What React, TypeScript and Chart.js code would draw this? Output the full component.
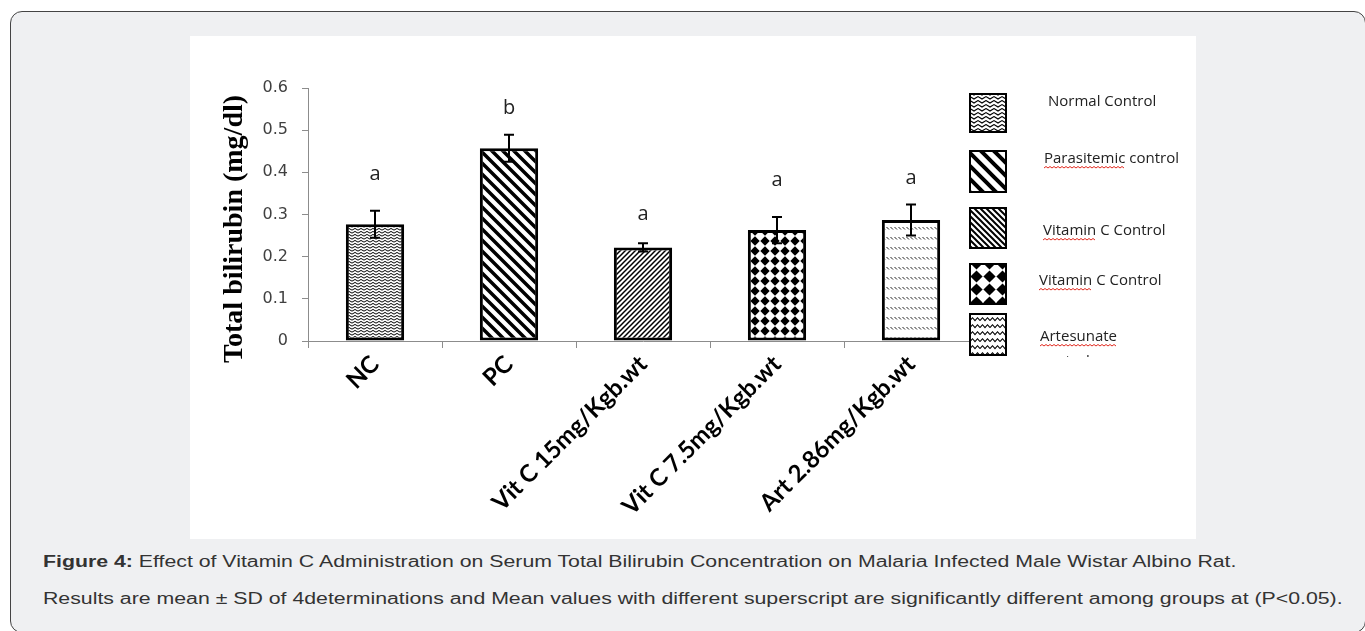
import React, { useEffect, useRef } from "react";
import { Chart, registerables } from "chart.js";

Chart.register(...registerables);

// ---------- data ----------
const categories = ["NC", "PC", "Vit C 15mg/Kgb.wt", "Vit C 7.5mg/Kgb.wt", "Art 2.86mg/Kgb.wt"];
const meanBilirubin = [0.277, 0.457, 0.222, 0.263, 0.287];
const sdBilirubin = [0.032, 0.032, 0.01, 0.031, 0.037];
const superscripts = ["a", "b", "a", "a", "a"];
const superscriptLevels = [0.396, 0.552, 0.301, 0.382, 0.387];
const yTickValues = [0, 0.1, 0.2, 0.3, 0.4, 0.5, 0.6];
const yTickLabels = ["0", "0.1", "0.2", "0.3", "0.4", "0.5", "0.6"];
const legendLabels = ["Normal Control", "Parasitemic control", "Vitamin C Control", "Vitamin C Control", "Artesunate"];
const legendMisspelt = ["", "Parasitemic", "Vitamin", "Vitamin", "Artesunate"];
const legendOverflow = "control";
const yAxisTitle = "Total bilirubin (mg/dl)";
const captionTitle = "Figure 4:";
const captionLine1 =
  " Effect of Vitamin C Administration on Serum Total Bilirubin Concentration on Malaria Infected Male Wistar Albino Rat.";
const captionLine2 =
  "Results are mean \u00b1 SD of 4determinations and Mean values with different superscript are significantly different among groups at (P<0.05).";

// ---------- layout constants (canvas coords) ----------
const CW = 1006;
const CH = 503;
const LEGEND_BOXES = [
  [779, 57, 38, 40],
  [779, 114, 38, 43],
  [779, 171, 38, 42],
  [779, 227, 38, 42],
  [779, 277, 38, 43],
];
const LEGEND_TEXT = [
  [858, 66],
  [854, 123],
  [853, 195],
  [849, 245],
  [850, 301],
];

// ---------- patterns ----------
type Draw = (c: CanvasRenderingContext2D, w: number, h: number) => void;

function makeTile(w: number, h: number, draw: Draw): HTMLCanvasElement {
  const cv = document.createElement("canvas");
  cv.width = w;
  cv.height = h;
  const c = cv.getContext("2d")!;
  c.fillStyle = "#fff";
  c.fillRect(0, 0, w, h);
  c.strokeStyle = "#000";
  c.fillStyle = "#000";
  draw(c, w, h);
  return cv;
}

const diag = (lw: number, dir: number): Draw => (c, w) => {
  c.lineWidth = lw;
  c.beginPath();
  for (let k = -1; k <= 1; k++) {
    if (dir > 0) {
      c.moveTo(k * w - 2, -2);
      c.lineTo(k * w + w + 2, w + 2);
    } else {
      c.moveTo(k * w - 2, w + 2);
      c.lineTo(k * w + w + 2, -2);
    }
  }
  c.stroke();
};

// herringbone-like chevrons
const weave = (lw: number): Draw => (c, w, h) => {
  c.lineWidth = lw;
  c.beginPath();
  const hh = h / 2;
  for (const y0 of [0, hh]) {
    c.moveTo(-1, y0 + hh * 0.9);
    c.lineTo(w / 2, y0 + hh * 0.15);
    c.lineTo(w + 1, y0 + hh * 0.9);
  }
  c.stroke();
};

const diamonds: Draw = (c, w, h) => {
  const r = w * 0.47;
  c.beginPath();
  c.moveTo(w / 2, h / 2 - r);
  c.lineTo(w / 2 + r, h / 2);
  c.lineTo(w / 2, h / 2 + r);
  c.lineTo(w / 2 - r, h / 2);
  c.closePath();
  c.fill();
};

const dashes: Draw = (c) => {
  c.lineWidth = 1;
  c.strokeStyle = "#222";
  c.beginPath();
  c.moveTo(0.5, 1);
  c.lineTo(3, 3.5);
  c.stroke();
};

const wave: Draw = (c, w, h) => {
  c.lineWidth = 1.1;
  c.beginPath();
  c.moveTo(0, h * 0.65);
  c.lineTo(w / 4, h * 0.25);
  c.lineTo(w / 2, h * 0.65);
  c.lineTo((3 * w) / 4, h * 0.25);
  c.lineTo(w, h * 0.65);
  c.stroke();
};

function drawWavy(ctx: CanvasRenderingContext2D, x0: number, x1: number, y: number) {
  ctx.save();
  ctx.strokeStyle = "#e0281e";
  ctx.lineWidth = 1;
  ctx.beginPath();
  let up = true;
  ctx.moveTo(x0, y);
  for (let x = x0 + 2; x <= x1; x += 2) {
    ctx.lineTo(x, up ? y - 1.5 : y);
    up = !up;
  }
  ctx.stroke();
  ctx.restore();
}

export default function App() {
  const ref = useRef<HTMLCanvasElement | null>(null);

  useEffect(() => {
    const canvas = ref.current;
    if (!canvas) return;
    const ctx0 = canvas.getContext("2d")!;
    const pat = (w: number, h: number, d: Draw) => ctx0.createPattern(makeTile(w, h, d), "repeat")!;

    const barFills = [
      pat(6, 6, weave(1)),
      pat(11, 11, diag(3.5, 1)),
      pat(5, 5, diag(1.5, -1)),
      pat(10, 10, diamonds),
      pat(4, 10, dashes),
    ];
    const legendFills = [
      pat(8, 8, weave(1.2)),
      pat(13, 13, diag(4, 1)),
      pat(6, 6, diag(2, 1)),
      pat(13, 13, diamonds),
      pat(10, 7, wave),
    ];

    const overlay = {
      id: "overlay",
      afterDatasetsDraw(chart: any) {
        const { ctx } = chart;
        const y = chart.scales.y;
        const meta = chart.getDatasetMeta(0);

        // error bars
        ctx.save();
        ctx.strokeStyle = "#000";
        ctx.lineWidth = 2;
        meanBilirubin.forEach((m, i) => {
          const cx = meta.data[i].x;
          const yt = y.getPixelForValue(m + sdBilirubin[i]);
          const yb = y.getPixelForValue(m - sdBilirubin[i]);
          ctx.beginPath();
          ctx.moveTo(cx, yt);
          ctx.lineTo(cx, yb);
          ctx.moveTo(cx - 5, yt);
          ctx.lineTo(cx + 5, yt);
          ctx.moveTo(cx - 5, yb);
          ctx.lineTo(cx + 5, yb);
          ctx.stroke();
        });

        // superscript letters
        ctx.fillStyle = "#222";
        ctx.font = '20px "Open Sans"';
        ctx.textAlign = "center";
        ctx.textBaseline = "middle";
        superscripts.forEach((s, i) => {
          ctx.fillText(s, meta.data[i].x, y.getPixelForValue(superscriptLevels[i]));
        });

        // y axis title
        ctx.save();
        ctx.translate(45, 193);
        ctx.rotate(-Math.PI / 2);
        ctx.fillStyle = "#000";
        ctx.font = 'bold 28px "Liberation Serif"';
        ctx.textAlign = "center";
        ctx.textBaseline = "middle";
        ctx.fillText(yAxisTitle, 0, 0);
        ctx.restore();

        // legend
        LEGEND_BOXES.forEach(([bx, by, bw, bh], i) => {
          ctx.fillStyle = legendFills[i];
          ctx.fillRect(bx, by, bw, bh);
          ctx.strokeStyle = "#000";
          ctx.lineWidth = 2;
          ctx.strokeRect(bx + 1, by + 1, bw - 2, bh - 2);
        });
        ctx.font = '15px "Open Sans"';
        ctx.textAlign = "left";
        ctx.textBaseline = "middle";
        legendLabels.forEach((t, i) => {
          const [tx, ty] = LEGEND_TEXT[i];
          ctx.fillStyle = "#222";
          ctx.fillText(t, tx, ty);
          if (legendMisspelt[i]) {
            const w = ctx.measureText(legendMisspelt[i]).width;
            drawWavy(ctx, tx, tx + w, ty + 9);
          }
        });
        // cut-off second line of the last legend entry
        ctx.save();
        ctx.beginPath();
        ctx.rect(840, 312, 160, 9);
        ctx.clip();
        ctx.fillStyle = "#222";
        ctx.fillText(legendOverflow, LEGEND_TEXT[4][0], LEGEND_TEXT[4][1] + 25);
        ctx.restore();

        ctx.restore();
      },
    };

    const chart = new Chart(canvas, {
      type: "bar",
      data: {
        labels: categories,
        datasets: [
          {
            data: meanBilirubin,
            backgroundColor: barFills as any,
            borderColor: "#000",
            borderWidth: 3,
            borderSkipped: false,
            barPercentage: 0.435,
            categoryPercentage: 1,
          },
        ],
      },
      options: {
        responsive: false,
        animation: false,
        events: [],
        layout: { padding: { left: 0, top: 52, right: 218, bottom: 0 } },
        plugins: {
          legend: { display: false },
          tooltip: { enabled: false },
        },
        scales: {
          x: {
            grid: {
              display: true,
              drawOnChartArea: false,
              offset: true,
              tickLength: 7,
              color: "#8c8c8c",
            },
            border: { color: "#8c8c8c" },
            ticks: {
              minRotation: 45,
              maxRotation: 45,
              autoSkip: false,
              color: "#000",
              font: { family: "Lato", weight: "bold", size: 24 },
              padding: 2,
            },
            afterFit: (s: any) => {
              s.height = 198;
            },
          },
          y: {
            min: 0,
            max: 0.6,
            afterBuildTicks: (s: any) => {
              s.ticks = yTickValues.map((v) => ({ value: v }));
            },
            ticks: {
              callback: (_v: any, i: number) => yTickLabels[i],
              color: "#404040",
              font: { family: "DejaVu Sans", size: 16 },
              padding: 14,
            },
            grid: { drawOnChartArea: false, tickLength: 6, color: "#8c8c8c" },
            border: { color: "#8c8c8c" },
            afterFit: (s: any) => {
              s.width = 118;
            },
          },
        },
      },
      plugins: [overlay],
    });

    return () => chart.destroy();
  }, []);

  const captionStyle: React.CSSProperties = {
    position: "absolute",
    left: 43,
    fontFamily: '"Liberation Sans", Arial, sans-serif',
    fontSize: 16,
    lineHeight: "20px",
    color: "#333",
    whiteSpace: "nowrap",
    transform: "scaleX(1.33)",
    transformOrigin: "0 0",
  };

  return (
    <div style={{ position: "fixed", inset: 0, overflow: "hidden", background: "#fff" }}>
      <div
        style={{
          position: "absolute",
          left: 10,
          top: 11,
          width: 1356,
          height: 622,
          boxSizing: "border-box",
          border: "1px solid #444",
          borderRadius: 12,
          background: "#eff0f2",
        }}
      />
      <canvas
        ref={ref}
        width={CW}
        height={CH}
        style={{ position: "absolute", left: 190, top: 36, width: CW, height: CH, background: "#fff" }}
      />
      <div style={{ ...captionStyle, top: 552 }}>
        <b>{captionTitle}</b>
        {captionLine1}
      </div>
      <div style={{ ...captionStyle, top: 589 }}>{captionLine2}</div>
    </div>
  );
}
